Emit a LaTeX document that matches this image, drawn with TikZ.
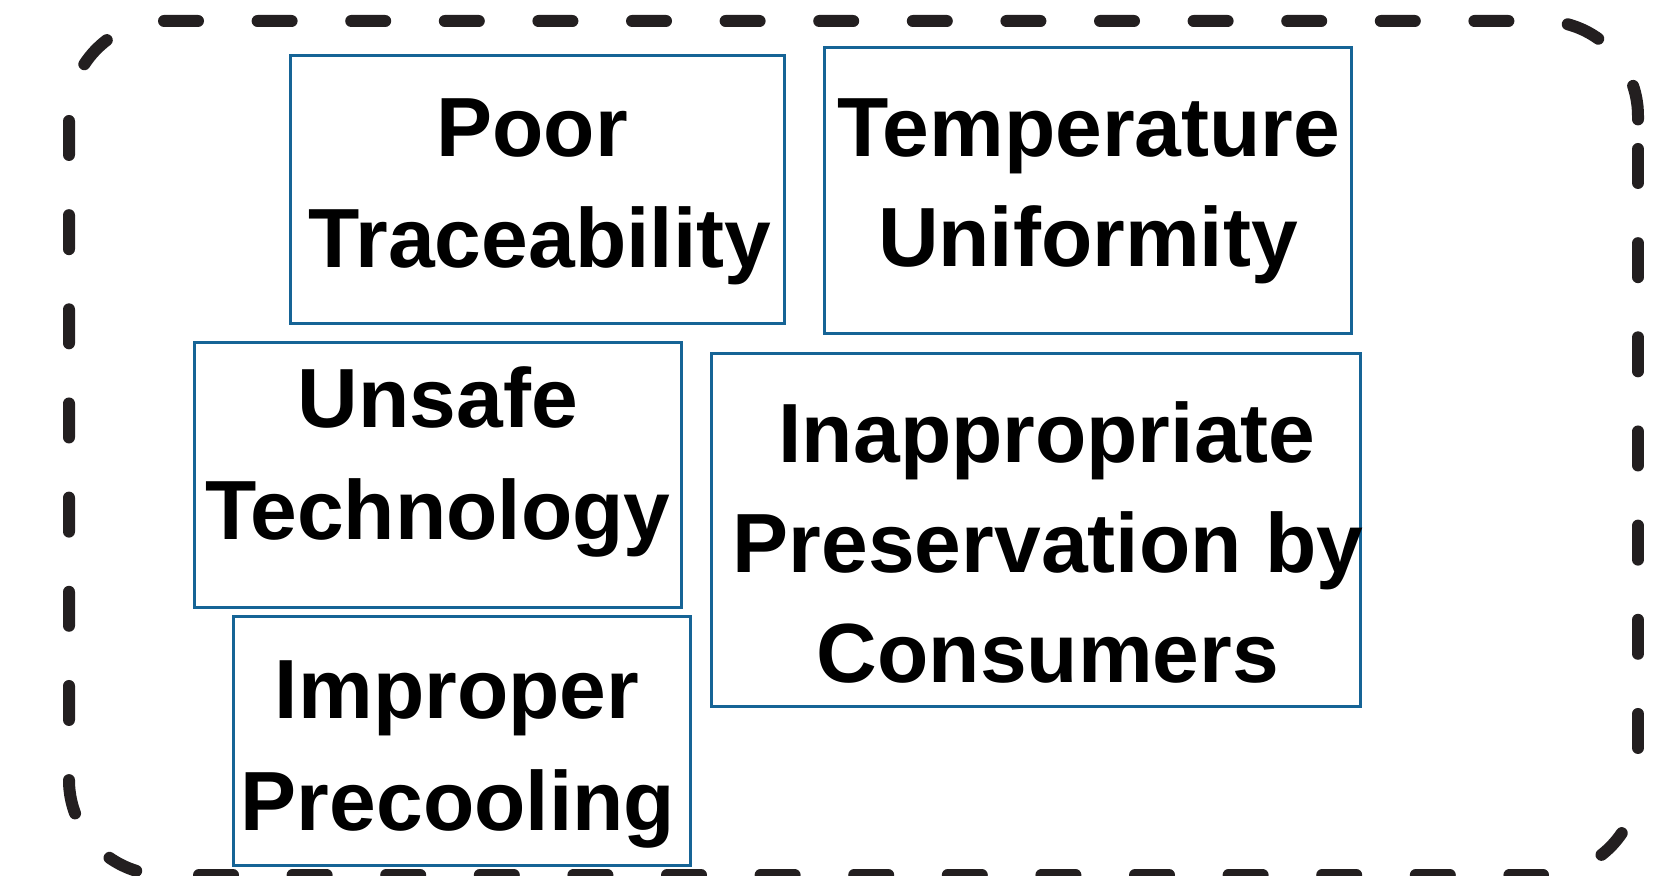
\documentclass[tikz,border=0pt]{standalone}
\usepackage{fontspec}
\setmainfont{Liberation Sans}
\definecolor{boxblue}{RGB}{22,100,150}
\definecolor{dashgray}{RGB}{35,31,32}
\begin{document}
\begin{tikzpicture}[x=0.5pt,y=-0.5pt,
  box/.style={draw=boxblue,line width=1.5pt,inner sep=0pt},
  lbl/.style={font=\fontsize{42}{50}\selectfont\bfseries,anchor=base,inner sep=0pt},
  frame/.style={draw=dashgray,line width=6pt,line cap=round},
  dashA/.style={dash pattern=on 17pt off 29.8pt},
  dashB/.style={dash pattern=on 17pt off 30.08pt}]
\useasboundingbox (0,0) rectangle (1661,876);
\fill[white] (0,0) rectangle (1661,876);
% dashed rounded frame
\coordinate (cTL) at (164,116);
\coordinate (cTR) at (1543,116);
\coordinate (cBR) at (1543,780);
\coordinate (cBL) at (164,780);
\draw[frame,dashA] (164,21) -- (1543,21) arc[start angle=-90,end angle=0,radius=95] -- (1638,125);
\draw[frame,dashB] (1638,149) -- (1638,780);
\draw[frame] (cBR) ++(34:95) arc[start angle=34,end angle=52,radius=95];
\draw[frame,dashA] (199,875) -- (1543,875);
\draw[frame] (cBL) ++(107:95) arc[start angle=107,end angle=125,radius=95];
\draw[frame,dashB] (69,121) -- (69,780) arc[start angle=180,end angle=150,radius=95];
\draw[frame] (cTL) ++(213:95) arc[start angle=213,end angle=233,radius=95];
% boxes
\node[box,minimum width=247pt,minimum height=134pt] (b1) at (537,190) {};
\node[box,minimum width=263.5pt,minimum height=143pt] (b2) at (1087.5,191) {};
\node[box,minimum width=243.5pt,minimum height=132.5pt] (b3) at (437.5,475.5) {};
\node[box,minimum width=324.5pt,minimum height=176.5pt] (b4) at (1035.5,530.5) {};
\node[box,minimum width=228.5pt,minimum height=124pt] (b5) at (461.5,741) {};
% labels
\node[lbl] (t1a) at (532,157) {Poor};
\node[lbl] (t1b) at (540,268) {Traceability};
\node[lbl] (t2a) at (1089,157) {Temperature};
\node[lbl] (t2b) at (1088,267) {Uniformity};
\node[lbl] (t3a) at (438,428) {Unsafe};
\node[lbl] (t3b) at (438,540) {Technology};
\node[lbl] (t4a) at (1047,463) {Inappropriate};
\node[lbl] (t4b) at (1048,573) {Preservation by};
\node[lbl] (t4c) at (1048,683) {Consumers};
\node[lbl] (t5a) at (457,719) {Improper};
\node[lbl] (t5b) at (458,831) {Precooling};
\end{tikzpicture}
\end{document}
